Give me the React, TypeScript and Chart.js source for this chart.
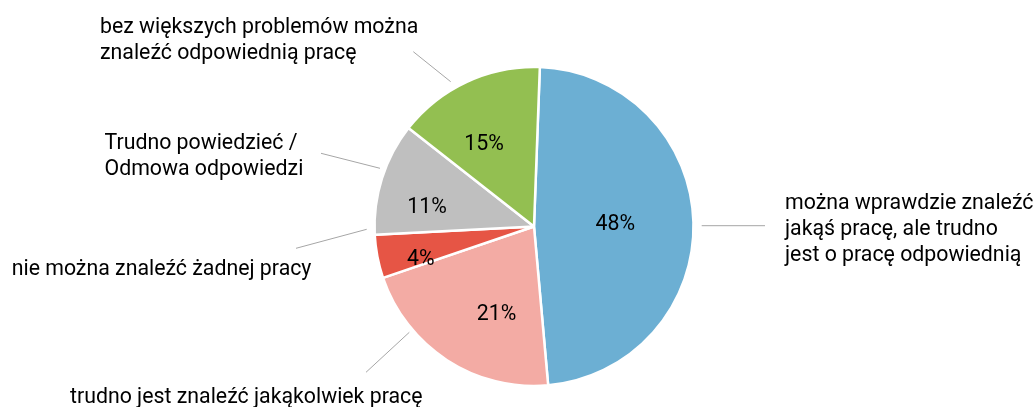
import React, { useEffect, useRef } from "react";
import { Chart, registerables } from "chart.js";

Chart.register(...registerables);

// ---- data ----
const categories: string[][] = [
  ["można wprawdzie znaleźć", "jakąś pracę, ale trudno", "jest o pracę odpowiednią"],
  ["trudno jest znaleźć jakąkolwiek pracę"],
  ["nie można znaleźć żadnej pracy"],
  ["Trudno powiedzieć /", "Odmowa odpowiedzi"],
  ["bez większych problemów można", "znaleźć odpowiednią pracę"],
];
const values = [48.0, 21.2, 4.4, 11.4, 15.0];
const percentLabels = ["48%", "21%", "4%", "11%", "15%"];
const colors = ["#6CAFD3", "#F3ABA4", "#E65545", "#BFBFBF", "#93BF51"];

// ---- layout (style only) ----
const FONT = "Roboto, 'Noto Sans', sans-serif";
const FONT_SIZE = 21.3;
const LINE_H = 25.8;
// inner label placement: angle shift from slice middle (deg) and radius fraction
const innerLayout = [
  { shift: 0, frac: 0.51 },
  { shift: -10, frac: 0.6 },
  { shift: -5.5, frac: 0.74 },
  { shift: -7.8, frac: 0.68 },
  { shift: -6.5, frac: 0.6 },
];
// outer labels: text origin (left, first baseline) and leader line (x1,y1)->(x2,y2)
const outerLayout = [
  { tx: 785, ty: 209, line: [701.7, 225.7, 765, 225.7] },
  { tx: 70, ty: 402.7, line: [409.3, 332.3, 366, 372.3] },
  { tx: 11.7, ty: 275, line: [366.7, 229.3, 296, 248.3] },
  { tx: 104.5, ty: 149.3, line: [380, 168.3, 321, 153.3] },
  { tx: 100, ty: 33.3, line: [450.7, 81.7, 413.3, 51.7] },
];

const labelPlugin = {
  id: "customLabels",
  afterDraw(chart: any) {
    const ctx = chart.ctx as CanvasRenderingContext2D;
    const meta = chart.getDatasetMeta(0);
    ctx.save();
    // leader lines
    ctx.strokeStyle = "#A6A6A6";
    ctx.lineWidth = 1;
    outerLayout.forEach((o) => {
      const [x1, y1, x2, y2] = o.line;
      ctx.beginPath();
      ctx.moveTo(x1, y1);
      ctx.lineTo(x2, y2);
      ctx.stroke();
    });
    // outer texts
    ctx.fillStyle = "#000";
    ctx.font = `${FONT_SIZE}px ${FONT}`;
    ctx.textAlign = "left";
    ctx.textBaseline = "alphabetic";
    outerLayout.forEach((o, i) => {
      categories[i].forEach((ln, j) => {
        ctx.fillText(ln, o.tx, o.ty + j * LINE_H);
      });
    });
    // inner percentages
    ctx.textAlign = "center";
    ctx.textBaseline = "middle";
    meta.data.forEach((arc: any, i: number) => {
      const { x, y, startAngle, endAngle, outerRadius } = arc.getProps(
        ["x", "y", "startAngle", "endAngle", "outerRadius"],
        true
      );
      const lay = innerLayout[i];
      const mid = (startAngle + endAngle) / 2 + (lay.shift * Math.PI) / 180;
      const r = outerRadius * lay.frac;
      ctx.fillText(percentLabels[i], x + Math.cos(mid) * r, y + Math.sin(mid) * r);
    });
    ctx.restore();
  },
};

export default function App() {
  const ref = useRef<HTMLCanvasElement | null>(null);
  useEffect(() => {
    document.body.style.margin = "0";
    const chart = new Chart(ref.current as HTMLCanvasElement, {
      type: "pie",
      data: {
        labels: categories.map((c) => c.join(" ")),
        datasets: [
          {
            data: values,
            backgroundColor: colors,
            borderColor: "#FFFFFF",
            borderWidth: 2.5,
          },
        ],
      },
      options: {
        animation: false,
        responsive: false,
        rotation: 2.1,
        radius: 159.5,
        layout: { padding: { left: 375, right: 343, top: 67, bottom: 21 } },
        plugins: {
          legend: { display: false },
          tooltip: { enabled: false },
        },
        events: [],
      },
      plugins: [labelPlugin],
    });
    return () => chart.destroy();
  }, []);
  return (
    <div style={{ position: "fixed", left: 0, top: 0, width: 1036, height: 407, background: "#fff" }}>
      <canvas ref={ref} width={1036} height={407} style={{ width: 1036, height: 407 }} />
    </div>
  );
}
